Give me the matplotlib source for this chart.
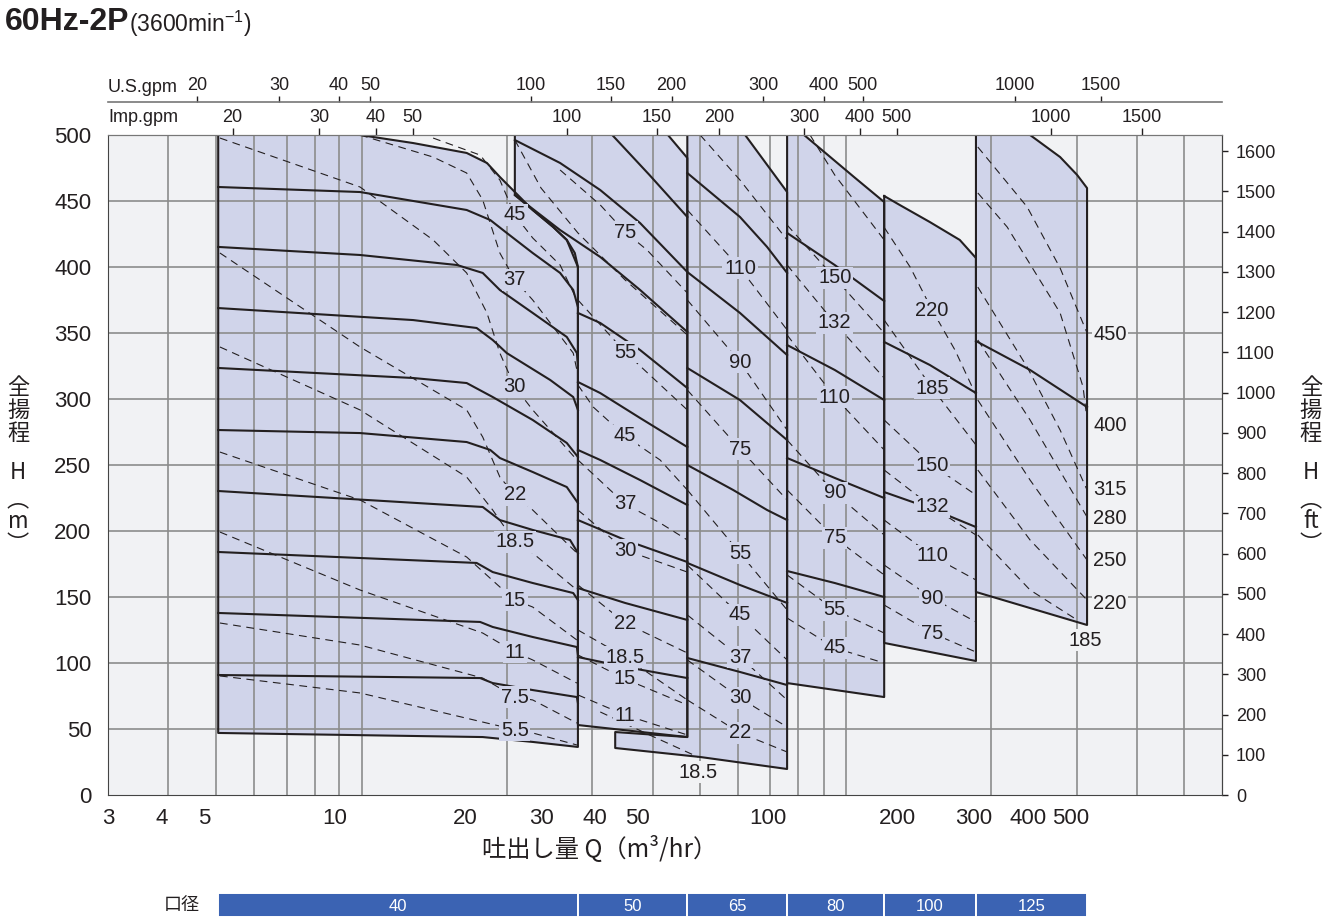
import matplotlib.pyplot as plt
from matplotlib.ticker import NullLocator

plt.rcParams['font.family'] = ['Liberation Sans', 'Noto Sans CJK JP']
plt.rcParams['mathtext.fontset'] = 'custom'
plt.rcParams['mathtext.rm'] = 'Liberation Sans'
plt.rcParams['mathtext.default'] = 'regular'

FILL = '#d0d4ea'
BG = '#f1f2f4'
GRID = '#8c8c8c'
INK = '#231f20'
BAR = '#3b63b3'
JP = ['Noto Sans CJK JP', 'DejaVu Sans']

# ---- axes data -------------------------------------------------------------
x_ticks = [3, 4, 5, 10, 20, 30, 40, 50, 100, 200, 300, 400, 500]
y_ticks = [0, 50, 100, 150, 200, 250, 300, 350, 400, 450, 500]
ft_ticks = [0, 100, 200, 300, 400, 500, 600, 700, 800, 900, 1000, 1100, 1200, 1300, 1400, 1500, 1600]
grid_q = [4.13, 5.32, 6.52, 7.77, 9.02, 10.27, 11.58, 25.0, 39.4, 54.4, 69.9, 85.5,
          101.4, 117.6, 134.8, 151.8, 327.6, 517.6, 713.8, 916.4]
grid_h = [50, 100, 150, 200, 250, 300, 350, 400, 450]

# top scales: where each gpm label sits on the m3/hr scale
us_labels = ['20', '30', '40', '50', '100', '150', '200', '300', '400', '500', '1000', '1500']
us_q = [4.81, 7.45, 10.25, 12.09, 28.45, 43.5, 60.1, 97.7, 135.1, 166, 373.2, 588.5]
imp_labels = ['20', '30', '40', '50', '100', '150', '200', '300', '400', '500', '1000', '1500']
imp_q = [5.82, 9.22, 12.47, 15.16, 34.4, 55.6, 77.3, 121.5, 163.6, 198.9, 451.8, 731.7]

# bore sizes (mm) and the flow ranges they cover
pipe_sizes = ['40', '50', '65', '80', '100', '125']
pipe_edges = [5.39, 36.5, 65.3, 111, 186, 303, 547]

# ---- region outlines (Q m3/hr, H m) -------------------------------------------
r40_outline = [(5.39, 500), (11.46, 500), (15.2, 493.9), (20.2, 486.4), (22.5, 478.8), (24.1, 468.2),
               (26.1, 456.8), (28.7, 443.2), (32.0, 430.3), (34.4, 420.5), (35.9, 410.6), (36.5, 400),
               (36.5, 36.4), (28.7, 40.2), (22.0, 43.9), (5.39, 47)]
r50_outline = [(26.1, 500), (58.9, 500), (65.3, 482.6), (65.3, 43.9), (36.5, 53), (36.5, 400),
               (34.4, 420.5), (32.0, 430.3), (28.7, 443.2), (26.1, 454.5)]
r65_outline = [(65.3, 500), (88.8, 500), (111, 456.8), (111, 19.7), (69.9, 28.8), (44.5, 35.6),
               (44.5, 47.7), (65.3, 43.9)]
r80_outline = [(111, 500), (121.5, 500), (158.4, 468.2), (186, 449.2), (186, 74.2), (111, 84.8)]
r100_outline = [(186, 453.8), (202, 447), (237, 434.1), (278, 420.5), (303, 406.8), (303, 101.5),
                (186, 115.2)]
r125_outline = [(303, 500), (404, 500), (474, 483.3), (519, 469.7), (547, 459.8), (547, 128.8),
                (303, 153.8)]

# ---- stage (head) curves -------------------------------------------------------
r40_stage = [
    [(5.39, 460.6), (11.46, 456.8), (20.2, 443.2), (22.9, 435.6), (25.0, 425.8), (28.7, 410.6), (33.2, 395.5), (35.6, 382.6), (36.5, 369.7)],
    [(5.39, 415.2), (11.46, 409.1), (19.2, 401.5), (22.0, 395.5), (24.1, 382.6), (28.7, 365.2), (34.4, 347), (36.3, 334.8), (36.5, 326)],
    [(5.39, 368.9), (15.2, 359.8), (21.3, 353.8), (23.2, 344.7), (25.0, 334.8), (31.5, 314.4), (35.6, 301.5), (36.5, 291.7)],
    [(5.39, 323.5), (15.2, 315.9), (20.2, 312.1), (23.2, 301.5), (28.7, 284.1), (34.4, 266.7), (36.5, 256.1)],
    [(5.39, 276.5), (11.46, 274.2), (20.2, 267.4), (22.9, 261.4), (24.1, 255.3), (28.7, 244.7), (34.4, 233.3), (36.5, 221.2)],
    [(5.39, 230.3), (22.0, 218.2), (24.1, 208.3), (28.7, 200.8), (35.0, 193.2), (36.5, 183.3)],
    [(5.39, 184.1), (21.3, 175.8), (23.2, 168.9), (28.7, 160.6), (35.6, 153), (36.5, 147.7)],
    [(5.39, 137.9), (21.7, 131.1), (23.2, 127.3), (28.7, 119.7), (36.3, 112.1), (36.5, 106)],
    [(5.39, 90.9), (21.7, 88.6), (23.2, 84.8), (28.7, 79.5), (36.3, 74.2), (36.5, 69.7)],
]
r50_stage = [
    [(43.8, 500), (53.4, 469.7), (65.3, 437.9)],
    [(26.1, 496.2), (33.2, 478.8), (41.1, 458.3), (50.8, 433.3), (65.3, 396.2)],
    [(26.1, 454.5), (33.2, 428), (41.1, 407.6), (50.8, 382.6), (65.3, 350.8)],
    [(36.5, 365.2), (41.1, 357.6), (50.8, 337.1), (65.3, 308.3)],
    [(36.5, 312.9), (41.1, 304.5), (50.8, 285.6), (65.3, 263.6)],
    [(36.5, 261.4), (41.1, 253.8), (50.8, 238.6), (65.3, 219.7)],
    [(36.5, 208.3), (46.9, 193.2), (65.3, 176.5)],
    [(36.5, 156.8), (46.9, 145.5), (65.3, 132.6)],
    [(36.5, 104.5), (46.9, 97), (65.3, 88.6)],
]
r65_stage = [
    [(65.3, 471.2), (86.4, 437.9), (99.8, 415.2), (111, 395.5)],
    [(65.3, 396.2), (86.4, 365.2), (111, 333.3)],
    [(65.3, 323.5), (86.4, 299.2), (111, 268.9)],
    [(65.3, 250), (83.3, 231.1), (99.8, 215.9), (111, 208.3)],
    [(65.3, 175.8), (86.4, 159.1), (111, 145.5)],
    [(65.3, 103.8), (86.4, 93.2), (111, 83.3)],
]
r80_stage = [
    [(111, 425.8), (143, 401.5), (186, 374.2)],
    [(111, 340.9), (143, 322), (186, 299.2)],
    [(111, 255.3), (143, 240.2), (186, 225)],
    [(111, 169.7), (143, 160.6), (186, 150)],
]
r100_stage = [
    [(186, 343.2), (237, 325.8), (303, 304.5)],
    [(186, 229.5), (237, 217.4), (303, 203)],
]
r125_stage = [
    [(303, 343.9), (404, 322), (547, 293.9)],
]

# ---- motor output lines (kW, dashed) -------------------------------------------
r40_kw = [
    [(16.9, 497.7), (21.7, 484.8), (24.1, 465.9), (26.1, 439.4), (28.7, 422), (33.2, 401.5), (36.3, 375)],
    [(11.46, 500), (16.9, 483.3), (20.2, 471.2), (22.0, 450.8), (24.1, 410.6), (26.1, 390.2), (28.7, 375), (35.6, 334.8), (36.3, 322)],
    [(5.44, 497.7), (11.46, 460.6), (16.9, 420.5), (20.2, 395.5), (22.5, 365.2), (24.1, 334.8), (26.1, 309.1), (28.7, 291.7), (36.3, 253.8)],
    [(5.44, 410.6), (11.46, 339.4), (20.2, 291.7), (22.0, 271.2), (24.1, 240.9), (26.1, 227.3), (28.7, 215.9), (36.3, 183.3)],
    [(5.44, 339.4), (11.46, 291.7), (20.2, 240.9), (23.2, 215.9), (26.1, 191.7), (28.7, 183.3), (36.3, 155.3)],
    [(5.44, 259.8), (11.46, 223.5), (20.2, 180.3), (24.1, 157.6), (26.1, 147.7), (28.7, 142.4), (36.3, 117.4)],
    [(5.44, 199.2), (11.46, 155.3), (22.0, 122.7), (26.1, 108.3), (28.7, 102.3), (36.3, 84.8)],
    [(5.44, 130.3), (11.46, 113.6), (22.0, 88.6), (26.1, 74.2), (28.7, 72), (36.3, 54.5)],
    [(5.44, 90.2), (11.46, 77.3), (22.5, 54.5), (26.4, 49.2), (28.7, 47), (36.3, 37.9)],
]
r40_kw_text = ['45', '37', '30', '22', '18.5', '15', '11', '7.5', '5.5']
r40_kw_q = [26.1, 26.1, 26.1, 26.1, 26.1, 26.1, 26.1, 26.1, 26.1]
r40_kw_h = [439.4, 390.2, 309.1, 227.3, 191.7, 147.7, 108.3, 74.2, 49.2]

r50_kw = [
    [(26.1, 496.2), (30.0, 459.8), (36.5, 425.8), (46.9, 390.2), (65.3, 348.5)],
    [(33.2, 473.5), (41.1, 447), (46.9, 426.5), (52.7, 412.9), (65.3, 380.3)],
    [(36.5, 375), (46.9, 335.6), (65.3, 291.7)],
    [(36.5, 310.6), (39.6, 293.9), (46.9, 272), (56.5, 253.8), (65.3, 231.1)],
    [(36.5, 253.8), (46.9, 220.5), (56.5, 206.1), (65.3, 193.2)],
    [(36.5, 215.9), (46.9, 185.6), (65.3, 168.9)],
    [(36.5, 159.1), (46.9, 130.3), (65.3, 107.6)],
    [(36.5, 125), (46.9, 104.5), (65.3, 72)],
    [(36.5, 106.1), (46.9, 87.9), (65.3, 68.2)],
    [(36.5, 75.8), (46.9, 60.6), (65.3, 45.5)],
]
r50_kw_text = ['75', '55', '45', '37', '30', '22', '18.5', '15', '11']
r50_kw_q = [46.9, 46.9, 46.9, 46.9, 46.9, 46.9, 46.9, 46.9, 46.9]
r50_kw_h = [426.5, 335.6, 272, 220.5, 185.6, 130.3, 104.5, 87.9, 60.6]

r65_kw = [
    [(69.9, 500), (86.4, 465.9), (111, 420.5)],
    [(65.3, 443.2), (86.4, 399.2), (111, 352.3)],
    [(65.3, 375), (86.4, 328), (111, 276.5)],
    [(65.3, 306.8), (86.4, 262.1), (111, 223.5)],
    [(65.3, 231.1), (86.4, 183.3), (111, 140.2)],
    [(65.3, 174.2), (86.4, 136.4), (111, 102.3)],
    [(65.3, 136.4), (86.4, 104.5), (111, 72)],
    [(65.3, 102.3), (86.4, 73.5), (111, 51.5)],
    [(65.3, 72), (86.4, 47), (111, 32.6)],
    [(41.1, 62.9), (53.4, 45.5), (69.1, 28.8)],
]
r65_kw_text = ['110', '90', '75', '55', '45', '37', '30', '22', '18.5']
r65_kw_q = [86.4, 86.4, 86.4, 86.4, 86.4, 86.4, 86.4, 86.4, 69.1]
r65_kw_h = [399.2, 328, 262.1, 183.3, 136.4, 104.5, 73.5, 47, 17.4]

r80_kw = [
    [(125.4, 500), (143, 469.7), (186, 420.5)],
    [(111, 431.8), (143, 391.7), (186, 350)],
    [(111, 401.5), (143, 357.6), (186, 315.9)],
    [(111, 348.5), (143, 301.5), (186, 261.4)],
    [(111, 268.9), (143, 228.8), (186, 197)],
    [(111, 231.1), (143, 194.7), (186, 166.7)],
    [(111, 166.7), (143, 140.2), (186, 122.7)],
    [(111, 134.1), (143, 111.4), (186, 100)],
]
r80_kw_text = ['150', '132', '110', '90', '75', '55', '45']
r80_kw_q = [143, 143, 143, 143, 143, 143, 143]
r80_kw_h = [391.7, 357.6, 301.5, 228.8, 194.7, 140.2, 111.4]

r100_kw = [
    [(186, 430), (213.5, 400), (240, 367.4), (271, 337.1), (303, 303)],
    [(186, 359.8), (240, 308.3), (303, 265.2)],
    [(186, 284.1), (240, 250), (303, 227.3)],
    [(186, 246.2), (240, 218.2), (303, 197)],
    [(186, 208.3), (240, 181.1), (303, 162.9)],
    [(186, 174.2), (240, 149.2), (303, 131.1)],
    [(186, 143.9), (240, 122.7), (303, 108.3)],
]
r100_kw_text = ['220', '185', '150', '132', '110', '90', '75']
r100_kw_q = [240, 240, 240, 240, 240, 240, 240]
r100_kw_h = [367.4, 308.3, 250, 218.2, 181.1, 149.2, 122.7]

r125_kw = [
    [(306, 490.9), (397.8, 445.5), (474, 399.2), (547, 350)],
    [(306, 456.1), (357.7, 430.3), (474, 365.2), (535.5, 309.1), (547, 284.1)],
    [(306, 384.8), (397.8, 324.2), (474, 276.5), (547, 231.1)],
    [(306, 344.7), (404, 284.1), (547, 210.6)],
    [(306, 299.2), (404, 238.6), (547, 178)],
    [(306, 246.2), (404, 193.2), (547, 147.7)],
    [(306, 197), (404, 155.3), (519, 132.6)],
]
r125_kw_text = ['450', '400', '315', '280', '250', '220', '185']
r125_kw_q = [618, 618, 618, 618, 618, 618, 541.5]
r125_kw_h = [349.2, 280.3, 231.8, 209.1, 177.3, 144.7, 117.4]

# ---- figure ---------------------------------------------------------------------
fig = plt.figure(figsize=(13.38, 9.17), dpi=100)
L, R, T, B = 108, 1222, 135, 795
ax = fig.add_axes([L / 1338, 1 - B / 917, (R - L) / 1338, (B - T) / 917])
ax.set_xscale('log')
ax.set_xlim(3, 1121)
ax.set_ylim(0, 500)
ax.set_facecolor(BG)
ax.xaxis.set_minor_locator(NullLocator())
ax.set_xticks(x_ticks)
ax.set_xticklabels([str(v) for v in x_ticks])
ax.set_yticks(y_ticks)
ax.tick_params(axis='both', length=0, labelsize=16, colors=INK)
ax.tick_params(axis='x', pad=9)
ax.tick_params(axis='y', pad=12)
for side in ['left', 'bottom', 'right']:
    ax.spines[side].set_color('#444444')
ax.spines['top'].set_color('#777777')

for q in grid_q:
    ax.axvline(q, color=GRID, lw=1.2, zorder=2)
for h in grid_h:
    ax.axhline(h, color=GRID, lw=1.2, zorder=2)


def draw_outline(pts):
    qs, hs = zip(*pts)
    ax.fill(qs, hs, color=FILL, lw=0, zorder=1)
    closed = pts + [pts[0]]
    run = [closed[0]]
    for p in closed[1:]:
        if p[1] >= 500 and run[-1][1] >= 500:
            if len(run) > 1:
                ax.plot(*zip(*run), color=INK, lw=1.5, zorder=3)
            run = [p]
        else:
            run.append(p)
    if len(run) > 1:
        ax.plot(*zip(*run), color=INK, lw=1.5, zorder=3)


for outline in [r40_outline, r50_outline, r65_outline, r80_outline, r100_outline, r125_outline]:
    draw_outline(outline)

for stages in [r40_stage, r50_stage, r65_stage, r80_stage, r100_stage, r125_stage]:
    for c in stages:
        ax.plot(*zip(*c), color=INK, lw=1.5, zorder=3, solid_joinstyle='round')

for lines in [r40_kw, r50_kw, r65_kw, r80_kw, r100_kw, r125_kw]:
    for c in lines:
        ax.plot(*zip(*c), color=INK, lw=0.8, dashes=(7, 5), zorder=3)

label_sets = [(r40_kw_text, r40_kw_q, r40_kw_h), (r50_kw_text, r50_kw_q, r50_kw_h),
              (r65_kw_text, r65_kw_q, r65_kw_h), (r80_kw_text, r80_kw_q, r80_kw_h),
              (r100_kw_text, r100_kw_q, r100_kw_h), (r125_kw_text, r125_kw_q, r125_kw_h)]
for texts, qs, hs in label_sets:
    for s, q, h in zip(texts, qs, hs):
        outside = q > 540 or h < 25
        ax.text(q, h, s, ha='center', va='center', fontsize=14.5, color=INK, zorder=6,
                bbox=dict(boxstyle='square,pad=0.08', fc=BG if outside else FILL, ec='none'))

# right axis in feet
axr = ax.twinx()
axr.set_ylim(0, 500 / 0.3048)
axr.set_yticks(ft_ticks)
axr.tick_params(axis='y', length=4.5, width=1, pad=5.5, labelsize=13, colors=INK)
for side in ['left', 'top', 'bottom']:
    axr.spines[side].set_visible(False)
axr.spines['right'].set_color('#444444')

# top scales
axi = ax.twiny()
axi.set_xscale('log')
axi.set_xlim(3, 1121)
axi.xaxis.set_minor_locator(NullLocator())
axi.set_xticks(imp_q)
axi.set_xticklabels(imp_labels)
axi.tick_params(axis='x', length=5, width=1, pad=1.5, labelsize=13, colors=INK)
for side in ['left', 'right', 'bottom']:
    axi.spines[side].set_visible(False)
axi.spines['top'].set_color('#777777')

axu = ax.twiny()
axu.set_xscale('log')
axu.set_xlim(3, 1121)
axu.xaxis.set_minor_locator(NullLocator())
axu.set_xticks(us_q)
axu.set_xticklabels(us_labels)
axu.tick_params(axis='x', length=4.5, width=1, pad=1.5, labelsize=13, colors=INK)
for side in ['left', 'right', 'bottom']:
    axu.spines[side].set_visible(False)
axu.spines['top'].set_position(('outward', 23.8))
axu.spines['top'].set_color('#777777')
axu.spines['top'].set_linewidth(1.2)

fig.text(108 / 1338, 1 - 87 / 917, 'U.S.gpm', ha='left', va='center', fontsize=13, color=INK)
fig.text(108 / 1338, 1 - 117 / 917, 'Imp.gpm', ha='left', va='center', fontsize=13, color=INK)

# titles and axis names
fig.text(5 / 1338, 1 - 22 / 917, '60Hz-2P', ha='left', va='center', fontsize=23,
         fontweight='bold', color=INK)
fig.text(129 / 1338, 1 - 24 / 917, r'(3600min$^{-1}$)', ha='left', va='center', fontsize=16.5, color=INK)

for xpx, unit in [(18, 'm'), (1311, 'ft')]:
    fig.text(xpx / 1338, 1 - 410 / 917, '全\n揚\n程', ha='center', va='center', fontsize=16,
             linespacing=1.0, family=JP, color=INK)
    fig.text(xpx / 1338, 1 - 472 / 917, 'H', ha='center', va='center', fontsize=16,
             family=JP, color=INK)
    fig.text(xpx / 1338, 1 - 522 / 917, '︵\n' + unit + '\n︶', ha='center', va='center',
             fontsize=16, linespacing=0.95, family=JP, color=INK)

fig.text(600 / 1338, 1 - 850 / 917, '吐出し量 Q（m³/hr）', ha='center', va='center', fontsize=17.5,
         family=JP, color=INK)

# bore size strip
axb = fig.add_axes([L / 1338, 0, (R - L) / 1338, 24 / 917])
axb.set_xscale('log')
axb.set_xlim(3, 1121)
axb.set_ylim(0, 1)
axb.axis('off')
for i, size in enumerate(pipe_sizes):
    a, b = pipe_edges[i], pipe_edges[i + 1]
    axb.barh(0.5, b - a, left=a, height=1, color=BAR, edgecolor='white', lw=1.4)
    axb.text((a * b) ** 0.5, 0.45, size, ha='center', va='center', color='white', fontsize=12)
fig.text(182 / 1338, 1 - 905 / 917, '口径', ha='center', va='center', fontsize=13, family=JP, color=INK)

fig.savefig('out.png', dpi=100)
